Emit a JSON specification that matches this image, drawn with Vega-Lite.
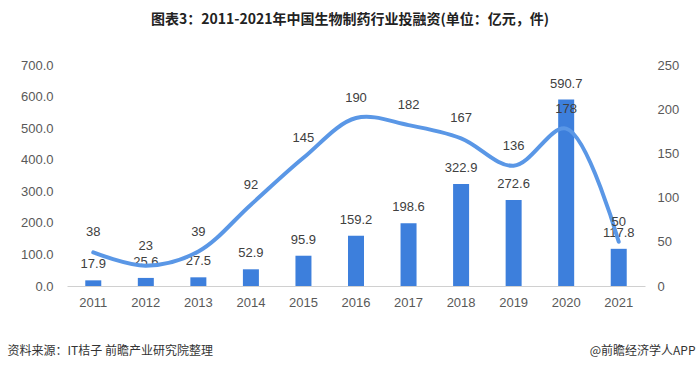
{
  "$schema": "https://vega.github.io/schema/vega-lite/v6.json",
  "autosize": {"type": "none"},
  "width": 578,
  "height": 221,
  "padding": {"left": 67, "top": 65, "right": 55, "bottom": 84},
  "background": "white",
  "config": {
    "view": {"stroke": null},
    "font": "Noto Sans CJK SC"
  },
  "title": {
    "text": "图表3：2011-2021年中国生物制药行业投融资(单位：亿元，件)",
    "font": "Noto Sans CJK SC",
    "fontSize": 14,
    "fontWeight": "bold",
    "color": "#222222",
    "anchor": "middle",
    "dx": -6,
    "offset": 32
  },
  "data": {
    "values": [
      {"year": "2011", "amount": 17.9, "count": 38},
      {"year": "2012", "amount": 25.6, "count": 23},
      {"year": "2013", "amount": 27.5, "count": 39},
      {"year": "2014", "amount": 52.9, "count": 92},
      {"year": "2015", "amount": 95.9, "count": 145},
      {"year": "2016", "amount": 159.2, "count": 190},
      {"year": "2017", "amount": 198.6, "count": 182},
      {"year": "2018", "amount": 322.9, "count": 167},
      {"year": "2019", "amount": 272.6, "count": 136},
      {"year": "2020", "amount": 590.7, "count": 178},
      {"year": "2021", "amount": 117.8, "count": 50}
    ]
  },
  "encoding": {
    "x": {
      "field": "year", "type": "ordinal",
      "scale": {"paddingInner": 0, "paddingOuter": 0},
      "axis": {
        "labelAngle": 0, "labelPadding": 10, "labelFont": "Liberation Sans", "labelFontSize": 13, "labelColor": "#595959",
        "ticks": false, "grid": false,
        "domain": true, "domainColor": "#d0d0d0", "domainWidth": 1,
        "title": "资料来源：IT桔子 前瞻产业研究院整理",
        "titleFont": "Noto Sans CJK SC", "titleFontSize": 12, "titleFontWeight": "normal", "titleColor": "#333333",
        "titleAnchor": "start", "titleAlign": "left", "titleBaseline": "middle", "titleX": -60, "titleY": 64
      }
    }
  },
  "layer": [
    {
      "encoding": {
        "y": {
          "field": "amount", "type": "quantitative",
          "scale": {"domain": [0, 700]},
          "axis": {
            "values": [0, 100, 200, 300, 400, 500, 600, 700], "format": ".1f", "labelPadding": 14,
            "labelOverlap": false, "labelFont": "Liberation Sans", "labelFontSize": 13, "labelColor": "#595959",
            "ticks": false, "domain": false, "grid": false, "title": null
          }
        }
      },
      "layer": [
        {"mark": {"type": "bar", "size": 16, "color": "#3d7fdc"}},
        {
          "mark": {"type": "text", "baseline": "bottom", "dy": -9, "fontSize": 13, "font": "Liberation Sans", "color": "#404040"},
          "encoding": {"text": {"field": "amount", "type": "quantitative", "format": ".1f"}}
        }
      ]
    },
    {
      "encoding": {
        "y": {
          "field": "count", "type": "quantitative",
          "scale": {"domain": [0, 250]},
          "axis": {
            "orient": "right", "values": [0, 50, 100, 150, 200, 250], "labelPadding": 12,
            "labelOverlap": false, "labelFont": "Liberation Sans", "labelFontSize": 13, "labelColor": "#595959",
            "ticks": false, "domain": false, "grid": false,
            "title": "@前瞻经济学人APP",
            "titleFont": "Noto Sans CJK SC", "titleFontSize": 12, "titleFontWeight": "normal", "titleColor": "#333333",
            "titleAngle": 0, "titleAlign": "right", "titleBaseline": "middle", "titleX": 50, "titleY": 285
          }
        }
      },
      "layer": [
        {"mark": {"type": "line", "interpolate": "catmull-rom", "color": "#5a97e6", "strokeWidth": 4, "strokeCap": "round"}},
        {
          "mark": {"type": "text", "baseline": "bottom", "dy": -13, "fontSize": 13, "font": "Liberation Sans", "color": "#404040"},
          "encoding": {"text": {"field": "count", "type": "quantitative"}}
        }
      ]
    }
  ],
  "resolve": {"scale": {"y": "independent"}}
}
